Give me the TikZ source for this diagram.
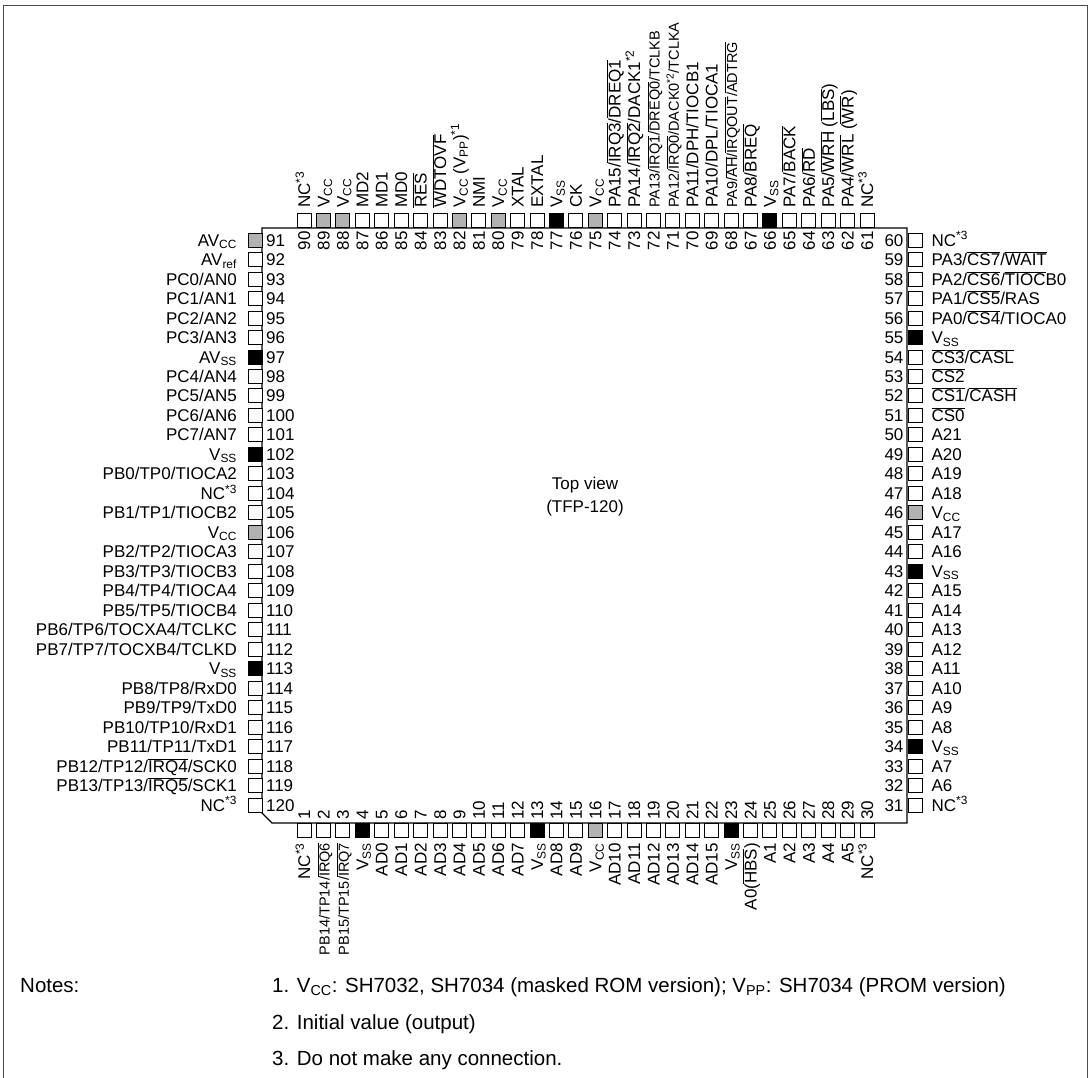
\documentclass[tikz,border=0pt]{standalone}
\usepackage{fontspec}
\setmainfont{Liberation Sans}
\newcommand\ovl[1]{$\overline{\mbox{#1}}$}
\newcommand\sm{\fontsize{14.5pt}{17pt}\selectfont}

\begin{document}
\begin{tikzpicture}
[every node/.style={inner sep=0pt, font=\fontsize{17pt}{20pt}\selectfont, text height=12.2pt, text depth=0pt},
 pad/.style={draw=black, line width=0.8pt, fill=white, minimum width=14pt, minimum height=14pt},
 vcc/.style={pad, fill=black!30},
 vss/.style={pad, fill=black},
 tnum/.style={yshift=-3pt, rotate=90, anchor=east},
 tname/.style={yshift=5pt, rotate=90, anchor=west},
 bnum/.style={yshift=3pt, rotate=90, anchor=west},
 bname/.style={yshift=-5pt, rotate=90, anchor=east},
 lnum/.style={xshift=3pt, anchor=west},
 lname/.style={xshift=-11pt, anchor=east},
 rnum/.style={xshift=-4pt, anchor=east},
 rname/.style={xshift=9pt, anchor=west},
 note/.style={anchor=west, font=\fontsize{20.5pt}{24pt}\selectfont, text height=14.7pt},
 tpin/.style 2 args={label={[tnum]below:#1}, label={[tname]above:{#2}}},
 bpin/.style 2 args={label={[bnum]above:#1}, label={[bname]below:{#2}}},
 lpin/.style 2 args={label={[lnum]right:#1}, label={[lname]left:{#2}}},
 rpin/.style 2 args={label={[rnum]left:#1}, label={[rname]right:{#2}}}]
\useasboundingbox (0pt,0pt) rectangle (1090pt,-1078pt);
\draw [line width=0.8pt, color=black!70] (3pt,-1078pt) -- (3pt,-5pt) -- (1087pt,-5pt) -- (1087pt,-1078pt);
% package body
\draw [line width=1.2pt] (262pt,-228pt) -- (907pt,-228pt) -- (907pt,-823pt) -- (272pt,-823pt) -- (262pt,-813pt) -- cycle;
\node (view) at (585pt,-483pt) {Top view};
\node (pkg) at (585pt,-506pt) {(TFP-120)};
% top side
\node (p90) [pad, tpin={90}{NC\textsuperscript{*3}}] at (304.0pt,-220.5pt) {};
\node (p89) [vcc, tpin={89}{V\textsubscript{CC}}] at (323.4pt,-220.5pt) {};
\node (p88) [vcc, tpin={88}{V\textsubscript{CC}}] at (342.8pt,-220.5pt) {};
\node (p87) [pad, tpin={87}{MD2}] at (362.2pt,-220.5pt) {};
\node (p86) [pad, tpin={86}{MD1}] at (381.6pt,-220.5pt) {};
\node (p85) [pad, tpin={85}{MD0}] at (401.1pt,-220.5pt) {};
\node (p84) [pad, tpin={84}{\ovl{RES}}] at (420.5pt,-220.5pt) {};
\node (p83) [pad, tpin={83}{\ovl{WDTOVF}}] at (439.9pt,-220.5pt) {};
\node (p82) [vcc, tpin={82}{V\textsubscript{CC} (V\textsubscript{PP})\textsuperscript{*1}}] at (459.3pt,-220.5pt) {};
\node (p81) [pad, tpin={81}{NMI}] at (478.7pt,-220.5pt) {};
\node (p80) [vcc, tpin={80}{V\textsubscript{CC}}] at (498.1pt,-220.5pt) {};
\node (p79) [pad, tpin={79}{XTAL}] at (517.5pt,-220.5pt) {};
\node (p78) [pad, tpin={78}{EXTAL}] at (536.9pt,-220.5pt) {};
\node (p77) [vss, tpin={77}{V\textsubscript{SS}}] at (556.3pt,-220.5pt) {};
\node (p76) [pad, tpin={76}{CK}] at (575.7pt,-220.5pt) {};
\node (p75) [vcc, tpin={75}{V\textsubscript{CC}}] at (595.2pt,-220.5pt) {};
\node (p74) [pad, tpin={74}{PA15/\ovl{IRQ3}/\ovl{DREQ1}}] at (614.6pt,-220.5pt) {};
\node (p73) [pad, tpin={73}{PA14/\ovl{IRQ2}/DACK1\textsuperscript{*2}}] at (634.0pt,-220.5pt) {};
\node (p72) [pad, tpin={72}{\sm PA13/\ovl{IRQ1}/\ovl{DREQ0}/TCLKB}] at (653.4pt,-220.5pt) {};
\node (p71) [pad, tpin={71}{\sm PA12/\ovl{IRQ0}/DACK0\textsuperscript{*2}/TCLKA}] at (672.8pt,-220.5pt) {};
\node (p70) [pad, tpin={70}{PA11/DPH/TIOCB1}] at (692.2pt,-220.5pt) {};
\node (p69) [pad, tpin={69}{PA10/DPL/TIOCA1}] at (711.6pt,-220.5pt) {};
\node (p68) [pad, tpin={68}{\sm PA9/\ovl{AH}/\ovl{IRQOUT}/\ovl{ADTRG}}] at (731.0pt,-220.5pt) {};
\node (p67) [pad, tpin={67}{PA8/\ovl{BREQ}}] at (750.4pt,-220.5pt) {};
\node (p66) [vss, tpin={66}{V\textsubscript{SS}}] at (769.8pt,-220.5pt) {};
\node (p65) [pad, tpin={65}{PA7/\ovl{BACK}}] at (789.3pt,-220.5pt) {};
\node (p64) [pad, tpin={64}{PA6/\ovl{RD}}] at (808.7pt,-220.5pt) {};
\node (p63) [pad, tpin={63}{PA5/\ovl{WRH} (\ovl{LBS})}] at (828.1pt,-220.5pt) {};
\node (p62) [pad, tpin={62}{PA4/\ovl{WRL} (\ovl{WR})}] at (847.5pt,-220.5pt) {};
\node (p61) [pad, tpin={61}{NC\textsuperscript{*3}}] at (866.9pt,-220.5pt) {};
% left side
\node (p91) [vcc, lpin={91}{AV\textsubscript{CC}}] at (255.5pt,-240.0pt) {};
\node (p92) [pad, lpin={92}{AV\textsubscript{ref}}] at (255.5pt,-259.5pt) {};
\node (p93) [pad, lpin={93}{PC0/AN0}] at (255.5pt,-279.0pt) {};
\node (p94) [pad, lpin={94}{PC1/AN1}] at (255.5pt,-298.4pt) {};
\node (p95) [pad, lpin={95}{PC2/AN2}] at (255.5pt,-317.9pt) {};
\node (p96) [pad, lpin={96}{PC3/AN3}] at (255.5pt,-337.4pt) {};
\node (p97) [vss, lpin={97}{AV\textsubscript{SS}}] at (255.5pt,-356.9pt) {};
\node (p98) [pad, lpin={98}{PC4/AN4}] at (255.5pt,-376.4pt) {};
\node (p99) [pad, lpin={99}{PC5/AN5}] at (255.5pt,-395.8pt) {};
\node (p100) [pad, lpin={100}{PC6/AN6}] at (255.5pt,-415.3pt) {};
\node (p101) [pad, lpin={101}{PC7/AN7}] at (255.5pt,-434.8pt) {};
\node (p102) [vss, lpin={102}{V\textsubscript{SS}}] at (255.5pt,-454.3pt) {};
\node (p103) [pad, lpin={103}{PB0/TP0/TIOCA2}] at (255.5pt,-473.8pt) {};
\node (p104) [pad, lpin={104}{NC\textsuperscript{*3}}] at (255.5pt,-493.2pt) {};
\node (p105) [pad, lpin={105}{PB1/TP1/TIOCB2}] at (255.5pt,-512.7pt) {};
\node (p106) [vcc, lpin={106}{V\textsubscript{CC}}] at (255.5pt,-532.2pt) {};
\node (p107) [pad, lpin={107}{PB2/TP2/TIOCA3}] at (255.5pt,-551.7pt) {};
\node (p108) [pad, lpin={108}{PB3/TP3/TIOCB3}] at (255.5pt,-571.2pt) {};
\node (p109) [pad, lpin={109}{PB4/TP4/TIOCA4}] at (255.5pt,-590.6pt) {};
\node (p110) [pad, lpin={110}{PB5/TP5/TIOCB4}] at (255.5pt,-610.1pt) {};
\node (p111) [pad, lpin={111}{PB6/TP6/TOCXA4/TCLKC}] at (255.5pt,-629.6pt) {};
\node (p112) [pad, lpin={112}{PB7/TP7/TOCXB4/TCLKD}] at (255.5pt,-649.1pt) {};
\node (p113) [vss, lpin={113}{V\textsubscript{SS}}] at (255.5pt,-668.6pt) {};
\node (p114) [pad, lpin={114}{PB8/TP8/RxD0}] at (255.5pt,-688.0pt) {};
\node (p115) [pad, lpin={115}{PB9/TP9/TxD0}] at (255.5pt,-707.5pt) {};
\node (p116) [pad, lpin={116}{PB10/TP10/RxD1}] at (255.5pt,-727.0pt) {};
\node (p117) [pad, lpin={117}{PB11/TP11/TxD1}] at (255.5pt,-746.5pt) {};
\node (p118) [pad, lpin={118}{PB12/TP12/\ovl{IRQ4}/SCK0}] at (255.5pt,-766.0pt) {};
\node (p119) [pad, lpin={119}{PB13/TP13/\ovl{IRQ5}/SCK1}] at (255.5pt,-785.4pt) {};
\node (p120) [pad, lpin={120}{NC\textsuperscript{*3}}] at (255.5pt,-804.9pt) {};
% bottom side
\node (p1) [pad, bpin={1}{NC\textsuperscript{*3}}] at (304.0pt,-830.5pt) {};
\node (p2) [pad, bpin={2}{\sm PB14/TP14/\ovl{IRQ6}}] at (323.4pt,-830.5pt) {};
\node (p3) [pad, bpin={3}{\sm PB15/TP15/\ovl{IRQ7}}] at (342.8pt,-830.5pt) {};
\node (p4) [vss, bpin={4}{V\textsubscript{SS}}] at (362.2pt,-830.5pt) {};
\node (p5) [pad, bpin={5}{AD0}] at (381.6pt,-830.5pt) {};
\node (p6) [pad, bpin={6}{AD1}] at (401.1pt,-830.5pt) {};
\node (p7) [pad, bpin={7}{AD2}] at (420.5pt,-830.5pt) {};
\node (p8) [pad, bpin={8}{AD3}] at (439.9pt,-830.5pt) {};
\node (p9) [pad, bpin={9}{AD4}] at (459.3pt,-830.5pt) {};
\node (p10) [pad, bpin={10}{AD5}] at (478.7pt,-830.5pt) {};
\node (p11) [pad, bpin={11}{AD6}] at (498.1pt,-830.5pt) {};
\node (p12) [pad, bpin={12}{AD7}] at (517.5pt,-830.5pt) {};
\node (p13) [vss, bpin={13}{V\textsubscript{SS}}] at (536.9pt,-830.5pt) {};
\node (p14) [pad, bpin={14}{AD8}] at (556.3pt,-830.5pt) {};
\node (p15) [pad, bpin={15}{AD9}] at (575.7pt,-830.5pt) {};
\node (p16) [vcc, bpin={16}{V\textsubscript{CC}}] at (595.2pt,-830.5pt) {};
\node (p17) [pad, bpin={17}{AD10}] at (614.6pt,-830.5pt) {};
\node (p18) [pad, bpin={18}{AD11}] at (634.0pt,-830.5pt) {};
\node (p19) [pad, bpin={19}{AD12}] at (653.4pt,-830.5pt) {};
\node (p20) [pad, bpin={20}{AD13}] at (672.8pt,-830.5pt) {};
\node (p21) [pad, bpin={21}{AD14}] at (692.2pt,-830.5pt) {};
\node (p22) [pad, bpin={22}{AD15}] at (711.6pt,-830.5pt) {};
\node (p23) [vss, bpin={23}{V\textsubscript{SS}}] at (731.0pt,-830.5pt) {};
\node (p24) [pad, bpin={24}{A0(\ovl{HBS})}] at (750.4pt,-830.5pt) {};
\node (p25) [pad, bpin={25}{A1}] at (769.8pt,-830.5pt) {};
\node (p26) [pad, bpin={26}{A2}] at (789.3pt,-830.5pt) {};
\node (p27) [pad, bpin={27}{A3}] at (808.7pt,-830.5pt) {};
\node (p28) [pad, bpin={28}{A4}] at (828.1pt,-830.5pt) {};
\node (p29) [pad, bpin={29}{A5}] at (847.5pt,-830.5pt) {};
\node (p30) [pad, bpin={30}{NC\textsuperscript{*3}}] at (866.9pt,-830.5pt) {};
% right side
\node (p60) [pad, rpin={60}{NC\textsuperscript{*3}}] at (915pt,-240.0pt) {};
\node (p59) [pad, rpin={59}{PA3/\ovl{CS7}/\ovl{WAIT}}] at (915pt,-259.5pt) {};
\node (p58) [pad, rpin={58}{PA2/\ovl{CS6}/\ovl{TIOC}B0}] at (915pt,-279.0pt) {};
\node (p57) [pad, rpin={57}{PA1/\ovl{CS5}/RAS}] at (915pt,-298.4pt) {};
\node (p56) [pad, rpin={56}{PA0/\ovl{CS4}/TIOCA0}] at (915pt,-317.9pt) {};
\node (p55) [vss, rpin={55}{V\textsubscript{SS}}] at (915pt,-337.4pt) {};
\node (p54) [pad, rpin={54}{\ovl{CS3}/\ovl{CASL}}] at (915pt,-356.9pt) {};
\node (p53) [pad, rpin={53}{\ovl{CS2}}] at (915pt,-376.4pt) {};
\node (p52) [pad, rpin={52}{\ovl{CS1}/\ovl{CASH}}] at (915pt,-395.8pt) {};
\node (p51) [pad, rpin={51}{\ovl{CS0}}] at (915pt,-415.3pt) {};
\node (p50) [pad, rpin={50}{A21}] at (915pt,-434.8pt) {};
\node (p49) [pad, rpin={49}{A20}] at (915pt,-454.3pt) {};
\node (p48) [pad, rpin={48}{A19}] at (915pt,-473.8pt) {};
\node (p47) [pad, rpin={47}{A18}] at (915pt,-493.2pt) {};
\node (p46) [vcc, rpin={46}{V\textsubscript{CC}}] at (915pt,-512.7pt) {};
\node (p45) [pad, rpin={45}{A17}] at (915pt,-532.2pt) {};
\node (p44) [pad, rpin={44}{A16}] at (915pt,-551.7pt) {};
\node (p43) [vss, rpin={43}{V\textsubscript{SS}}] at (915pt,-571.2pt) {};
\node (p42) [pad, rpin={42}{A15}] at (915pt,-590.6pt) {};
\node (p41) [pad, rpin={41}{A14}] at (915pt,-610.1pt) {};
\node (p40) [pad, rpin={40}{A13}] at (915pt,-629.6pt) {};
\node (p39) [pad, rpin={39}{A12}] at (915pt,-649.1pt) {};
\node (p38) [pad, rpin={38}{A11}] at (915pt,-668.6pt) {};
\node (p37) [pad, rpin={37}{A10}] at (915pt,-688.0pt) {};
\node (p36) [pad, rpin={36}{A9}] at (915pt,-707.5pt) {};
\node (p35) [pad, rpin={35}{A8}] at (915pt,-727.0pt) {};
\node (p34) [vss, rpin={34}{V\textsubscript{SS}}] at (915pt,-746.5pt) {};
\node (p33) [pad, rpin={33}{A7}] at (915pt,-766.0pt) {};
\node (p32) [pad, rpin={32}{A6}] at (915pt,-785.4pt) {};
\node (p31) [pad, rpin={31}{NC\textsuperscript{*3}}] at (915pt,-804.9pt) {};
% notes
\node (notes) [note] at (20pt,-985pt) {Notes:};
\node (note1) [note] at (272pt,-985pt) {1. V\textsubscript{CC}: SH7032, SH7034 (masked ROM version); V\textsubscript{PP}: SH7034 (PROM version)};
\node (note2) [note] at (272pt,-1022pt) {2. Initial value (output)};
\node (note3) [note] at (272pt,-1058pt) {3. Do not make any connection.};
\end{tikzpicture}
\end{document}
